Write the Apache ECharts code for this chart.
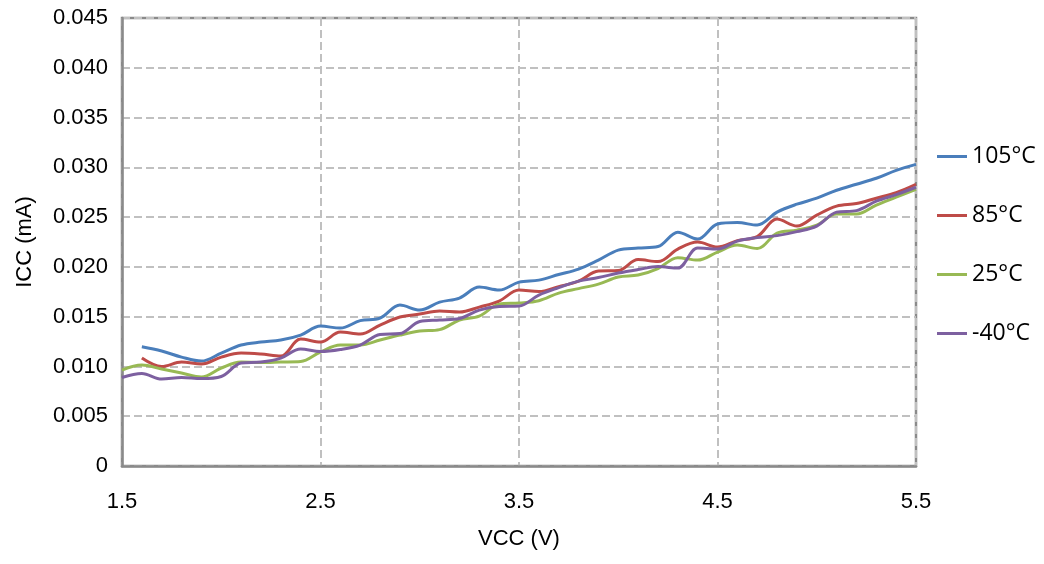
<!DOCTYPE html>
<html>
<head>
<meta charset="utf-8">
<script src="https://cdn.jsdelivr.net/npm/echarts@6/dist/echarts.min.js"></script>
<style>
  html, body { margin: 0; padding: 0; background: #fff; }
  #chart { width: 1044px; height: 564px; }
</style>
</head>
<body>
<div id="chart"></div>
<script>
// supply voltage (V)
var vcc = [1.5, 1.6, 1.7, 1.8, 1.9, 2.0, 2.1, 2.2, 2.3, 2.4, 2.5, 2.6, 2.7, 2.8, 2.9, 3.0,
  3.1, 3.2, 3.3, 3.4, 3.5, 3.6, 3.7, 3.8, 3.9, 4.0, 4.1, 4.2, 4.3, 4.4, 4.5,
  4.6, 4.7, 4.8, 4.9, 5.0, 5.1, 5.2, 5.3, 5.4, 5.5];

// ICC (mA), one list per temperature; null = no reading
var icc105 = [null, 0.01198, 0.01155, 0.01094, 0.01054, 0.01134, 0.01215, 0.01245, 0.01265, 0.01315, 0.01405,
  0.01385, 0.0146, 0.01485, 0.01616, 0.01566, 0.01646, 0.01687, 0.01797, 0.01767, 0.01847,
  0.01867, 0.01923, 0.01978, 0.02068, 0.02169, 0.02189, 0.02204, 0.02349, 0.02279, 0.0243,
  0.02445, 0.0242, 0.0255, 0.0263, 0.0269, 0.0277, 0.0283, 0.0289, 0.0297, 0.0303];
var icc85 = [null, 0.01084, 0.00999, 0.01044, 0.01024, 0.01094, 0.01134, 0.01124, 0.01104, 0.01275, 0.01245,
  0.01345, 0.01325, 0.01416, 0.01496, 0.01526, 0.01556, 0.01546, 0.01596, 0.01657, 0.01767,
  0.01752, 0.01802, 0.01857, 0.01958, 0.01963, 0.02073, 0.02053, 0.02179, 0.02249, 0.02199,
  0.02264, 0.02304, 0.0248, 0.0241, 0.0252, 0.0261, 0.02636, 0.0269, 0.02746, 0.0283];
var icc25 = [0.00964, 0.01014, 0.00974, 0.00934, 0.00894, 0.00984, 0.01044, 0.01039, 0.01044, 0.01049, 0.01145,
  0.01215, 0.01215, 0.01265, 0.01315, 0.01355, 0.0137, 0.01466, 0.01506, 0.01626, 0.01637,
  0.0166, 0.01737, 0.01782, 0.01827, 0.01898, 0.01918, 0.01983, 0.02093, 0.02068, 0.02149,
  0.02219, 0.02184, 0.02339, 0.02369, 0.0242, 0.0253, 0.0253, 0.0262, 0.027, 0.0278];
var iccM40 = [0.00889, 0.00929, 0.00873, 0.00889, 0.00878, 0.00899, 0.01034, 0.01044, 0.01084, 0.01175, 0.0115,
  0.0117, 0.01215, 0.0132, 0.0133, 0.01451, 0.01466, 0.01481, 0.01566, 0.01601, 0.01606,
  0.01717, 0.01792, 0.01857, 0.01893, 0.01938, 0.01973, 0.02003, 0.01988, 0.02189, 0.02179,
  0.02259, 0.02294, 0.02314, 0.02354, 0.0241, 0.0255, 0.02565, 0.0266, 0.02726, 0.028];

var seriesNames = ['105°C', '85°C', '25°C', '-40°C'];
var seriesColors = ['#4a7ebb', '#be4b48', '#98b954', '#7d60a0'];

function pairs(vals) {
  return vcc.map(function (v, i) { return [v, vals[i]]; }).filter(function (p) { return p[1] !== null; });
}

var chart = echarts.init(document.getElementById('chart'));
var allData = [icc105, icc85, icc25, iccM40];
var axisFont = { fontFamily: 'Liberation Sans', fontSize: 22, color: '#000' };
var dashed = { show: true, lineStyle: { color: '#c0c0c0', width: 2, type: [8, 4] } };

chart.setOption({
  animation: false,
  color: seriesColors,
  grid: {
    left: 122,
    right: 128,
    top: 18,
    bottom: 98,
    show: true,
    borderColor: '#8a8a8a',
    borderWidth: 2.5
  },
  legend: {
    orient: 'vertical',
    left: 932,
    top: 140,
    itemGap: 36,
    itemWidth: 30,
    itemHeight: 3,
    icon: 'rect',
    textStyle: { fontFamily: 'Open Sans', fontSize: 23, color: '#000' },
    data: seriesNames
  },
  xAxis: {
    type: 'value',
    min: 1.5,
    max: 5.5,
    interval: 1,
    name: 'VCC (V)',
    nameLocation: 'middle',
    nameGap: 62,
    nameTextStyle: axisFont,
    axisLine: { show: true, lineStyle: { color: '#8a8a8a', width: 2.5 } },
    axisTick: { show: false },
    axisLabel: Object.assign({ margin: 25, formatter: function (v) { return v.toFixed(1); } }, axisFont),
    splitLine: dashed
  },
  yAxis: {
    type: 'value',
    min: 0,
    max: 0.045,
    interval: 0.005,
    name: 'ICC (mA)',
    nameLocation: 'middle',
    nameGap: 86,
    nameTextStyle: axisFont,
    axisLine: { show: true, lineStyle: { color: '#8a8a8a', width: 2.5 } },
    axisTick: { show: false },
    axisLabel: Object.assign({ margin: 14, formatter: function (v) { return v === 0 ? '0' : v.toFixed(3); } }, axisFont),
    splitLine: dashed
  },
  series: allData.map(function (vals, i) {
    return {
      name: seriesNames[i],
      type: 'line',
      smooth: 0.35,
      showSymbol: false,
      lineStyle: { width: 3, color: seriesColors[i] },
      data: pairs(vals)
    };
  })
});
</script>
</body>
</html>
